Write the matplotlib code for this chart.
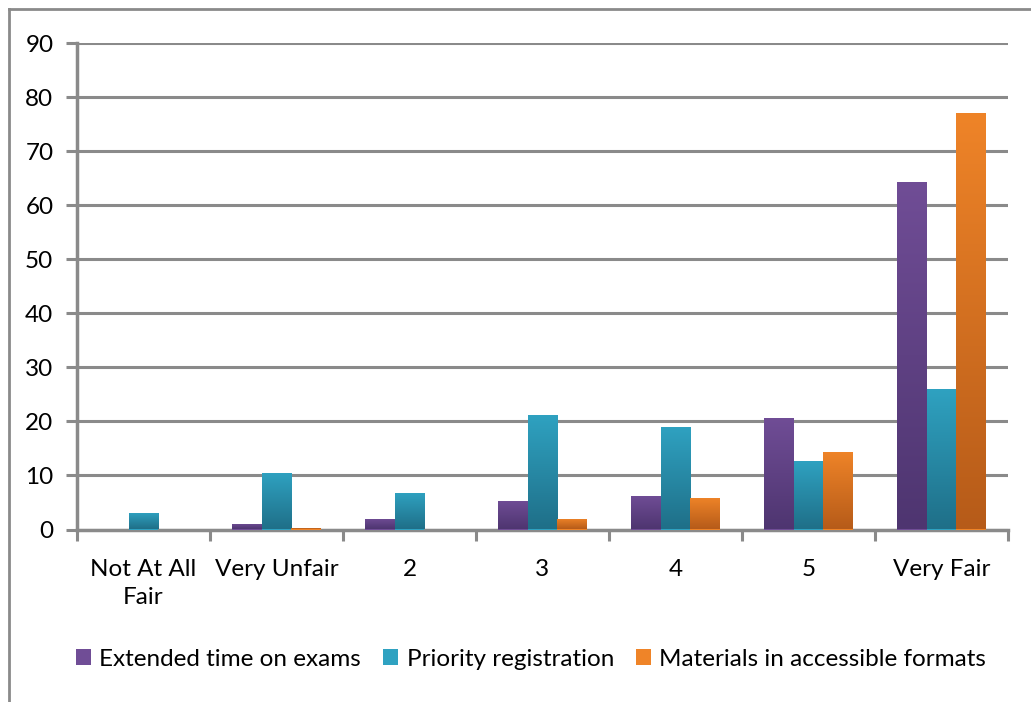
import numpy as np
import matplotlib
matplotlib.use("Agg")
from matplotlib import pyplot as plt
from matplotlib.colors import LinearSegmentedColormap
from matplotlib.lines import Line2D

categories = ["Not At All\nFair", "Very Unfair", "2", "3", "4", "5", "Very Fair"]
extended_time = [0, 1.0, 2.0, 5.3, 6.2, 20.7, 64.3]
priority_reg = [3.1, 10.5, 6.7, 21.2, 19.0, 12.7, 25.9]
materials = [0, 0.3, 0, 2.0, 5.8, 14.3, 77.1]
series_names = ["Extended time on exams", "Priority registration", "Materials in accessible formats"]

# top / bottom colours of the gradient fill
top_cols = ["#704D96", "#2FA2C1", "#EF8428"]
bot_cols = ["#4E3570", "#1F6F88", "#B65B19"]

plt.rcParams["font.family"] = ["Lato", "DejaVu Sans"]

fig = plt.figure(figsize=(10.31, 7.02), dpi=100)
ax = fig.add_axes([77 / 1031, 1 - 529.5 / 702, (1008 - 77) / 1031, (529.5 - 43) / 702])

x = np.arange(len(categories))
w = 1 / 4.5
grey = "#8A8A8A"
fs = 17.5

for i, vals in enumerate([extended_time, priority_reg, materials]):
    bars = ax.bar(x + (i - 1) * w, vals, w, color=top_cols[i], label=series_names[i], zorder=3)
    cmap = LinearSegmentedColormap.from_list("g%d" % i, [bot_cols[i], top_cols[i]])
    for b in bars:
        h = b.get_height()
        if h <= 0:
            continue
        grad = np.linspace(0, 1, 256).reshape(-1, 1)
        im = ax.imshow(grad, cmap=cmap, origin="lower", aspect="auto",
                       extent=[b.get_x(), b.get_x() + b.get_width(), 0, h], zorder=4)
        im.set_clip_path(b)

ax.set_xlim(-0.5, 6.5)
ax.set_ylim(0, 90)
ax.set_yticks(np.arange(0, 91, 10))
ax.set_xticks(x)
ax.set_xticklabels(categories, linespacing=1.45)
ax.set_xticks(np.arange(-0.5, 7, 1), minor=True)
ax.grid(axis="y", color=grey, linewidth=2.2, zorder=0)
ax.set_axisbelow(True)

for s in ["top", "right"]:
    ax.spines[s].set_visible(False)
for s in ["left", "bottom"]:
    ax.spines[s].set_color(grey)
    ax.spines[s].set_linewidth(2.5)
ax.tick_params(axis="y", length=8, width=2.2, color=grey, labelsize=fs, pad=9)
ax.tick_params(axis="x", which="major", length=0, labelsize=fs, pad=21)
ax.tick_params(axis="x", which="minor", length=8, width=2.2, color=grey)

leg = fig.legend(loc="center", bbox_to_anchor=(531 / 1031, 1 - 659 / 702), ncol=3,
                 frameon=False, fontsize=fs, handlelength=0.62, handleheight=0.62,
                 handletextpad=0.35, columnspacing=0.9)

# chart frame
fig.add_artist(Line2D([8.5 / 1031, 8.5 / 1031], [0, 1 - 8.5 / 702], color=grey, linewidth=2, transform=fig.transFigure))
fig.add_artist(Line2D([8.5 / 1031, 1], [1 - 8.5 / 702, 1 - 8.5 / 702], color=grey, linewidth=2, transform=fig.transFigure))

fig.savefig("out.png", dpi=100)
